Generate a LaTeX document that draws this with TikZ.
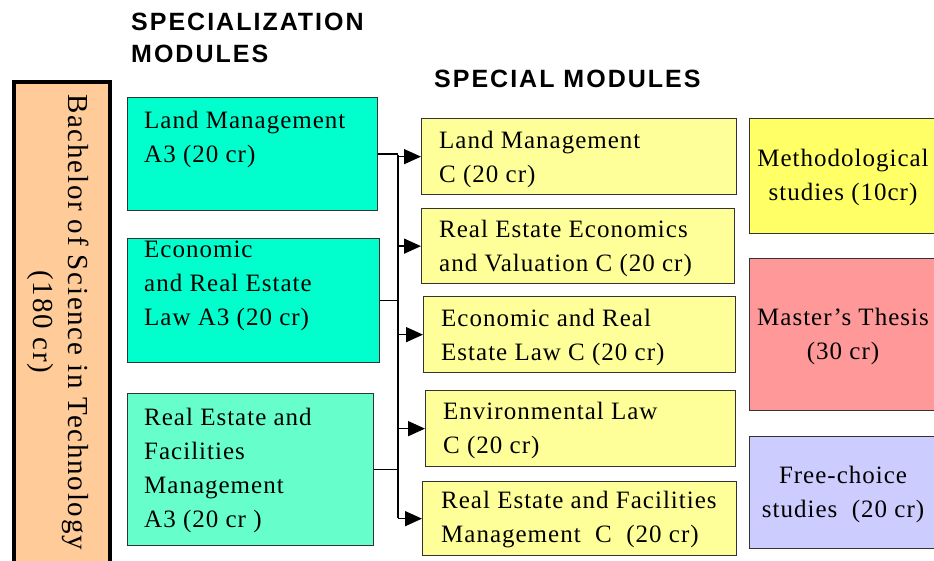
\documentclass[tikz,border=0pt]{standalone}
\usepackage{fontspec}
\setmainfont{Liberation Serif}[LetterSpace=4]
\newfontfamily\bscfont{Liberation Serif}[LetterSpace=6]
\newfontfamily\hdrfont{Liberation Sans}[LetterSpace=8]
\usetikzlibrary{arrows.meta}
\definecolor{peach}{HTML}{FFCC99}
\definecolor{teal1}{HTML}{00FFCC}
\definecolor{teal2}{HTML}{66FFCC}
\definecolor{ylight}{HTML}{FFFF99}
\definecolor{ystrong}{HTML}{FFFF66}
\definecolor{pinkbox}{HTML}{FF9999}
\definecolor{lilac}{HTML}{CCCCFF}
\definecolor{edge}{HTML}{333333}
\begin{document}
\begin{tikzpicture}[x=1pt,y=-1pt,
  box/.style={draw=edge, line width=1.3pt, anchor=north west, inner sep=0pt},
  txt/.style={font=\fontsize{25}{34}\selectfont, align=left, inner sep=0pt},
  ctxt/.style={font=\fontsize{25}{34}\selectfont, align=center, inner sep=0pt},
  hdr/.style={font=\hdrfont\bfseries\fontsize{25}{32}\selectfont, align=left, inner sep=0pt, anchor=north west},
  conn/.style={draw=black, line width=1.5pt},
  arr/.style={conn, -{Triangle[length=17pt,width=15pt]}}]
\useasboundingbox (0,0) rectangle (934,561);
\clip (0,0) rectangle (934,561);
\fill[white] (0,0) rectangle (934,561);

% headers
\node[hdr] (h1) at (131,13) {SPECIALIZATION\\MODULES};
\node[hdr] (h2) at (434,70) {SPECIAL MODULES};

% bachelor box
\node[box, draw=black, line width=4pt, fill=peach, minimum width=96pt, minimum height=520pt] (bsc) at (12,80) {};
\node[ctxt, rotate=-90, font=\bscfont\fontsize{29}{35}\selectfont] (bsct) at (58,322) {Bachelor of Science in Technology\\(180 cr)};

% specialization modules
\node[box, fill=teal1, minimum width=250pt, minimum height=113pt] (g1) at (127,97) {};
\node[txt, anchor=north west] (g1t) at (144,111) {Land Management\\A3 (20 cr)};
\node[box, fill=teal1, minimum width=252pt, minimum height=124pt] (g2) at (127,238) {};
\node[txt, anchor=north west] (g2t) at (144,241) {Economic\\and Real Estate\\Law A3 (20 cr)};
\node[box, fill=teal2, minimum width=246pt, minimum height=152pt] (g3) at (127,393) {};
\node[txt, anchor=north west] (g3t) at (144,408) {Real Estate and\\Facilities\\Management\\A3 (20 cr )};

% special modules
\node[box, fill=ylight, minimum width=315pt, minimum height=76pt] (y1) at (421,118) {};
\node[txt, anchor=west] (y1t) at (439,159) {Land Management\\C (20 cr)};
\node[box, fill=ylight, minimum width=313pt, minimum height=75pt] (y2) at (421,208) {};
\node[txt, anchor=west] (y2t) at (439,248) {Real Estate Economics\\and Valuation C (20 cr)};
\node[box, fill=ylight, minimum width=312pt, minimum height=76pt] (y3) at (423,296) {};
\node[txt, anchor=west] (y3t) at (441,337) {Economic and Real\\Estate Law C (20 cr)};
\node[box, fill=ylight, minimum width=310pt, minimum height=76pt] (y4) at (425,390) {};
\node[txt, anchor=west] (y4t) at (443,430) {Environmental Law\\C (20 cr)};
\node[box, fill=ylight, minimum width=314pt, minimum height=74pt] (y5) at (422,481) {};
\node[txt, anchor=west] (y5t) at (441,520) {Real Estate and Facilities\\Management\ \ C\ \ (20 cr)};

% right column
\node[box, fill=ystrong, minimum width=195pt, minimum height=115pt] (m1) at (749,118) {};
\node[ctxt] (m1t) at (843,177) {Methodological\\studies (10cr)};
\node[box, fill=pinkbox, minimum width=195pt, minimum height=152pt] (m2) at (749,258) {};
\node[ctxt] (m2t) at (843,336) {Master’s Thesis\\(30 cr)};
\node[box, fill=lilac, minimum width=195pt, minimum height=112pt] (m3) at (749,436) {};
\node[ctxt] (m3t) at (843,494) {Free-choice\\studies\ \ (20 cr)};

% connectors
\coordinate (btop) at (398,155);
\coordinate (bbot) at (398,518);
\draw[conn] (btop) -- (bbot);
\draw[conn] (g1.east) -- (g1.east -| btop);
\draw[conn] (g2.east) -- (g2.east -| btop);
\draw[conn] (g3.east) -- (g3.east -| btop);
\draw[arr] (y1.west -| btop) -- (y1.west);
\draw[arr] (y2.west -| btop) -- (y2.west);
\draw[arr] (y3.west -| btop) -- (y3.west);
\draw[arr] (y4.west -| btop) -- (y4.west);
\draw[arr] (y5.west -| btop) -- (y5.west);
\end{tikzpicture}
\end{document}
